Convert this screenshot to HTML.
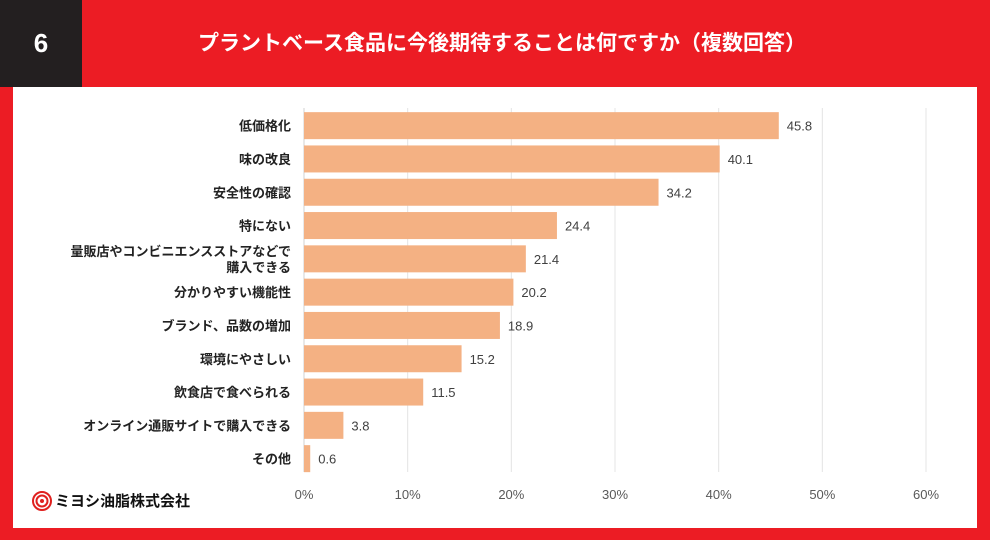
<!DOCTYPE html>
<html><head><meta charset="utf-8"><style>
body{margin:0;width:990px;height:540px;background:#ec1c24;position:relative;overflow:hidden;font-family:"Liberation Sans","Noto Sans CJK JP",sans-serif}
#num{position:absolute;left:0;top:0;width:82px;height:87px;background:#231f20;color:#fff;font-weight:bold;font-size:26px;line-height:87px;text-align:center}
#title{position:absolute;left:0;width:1004px;top:0;height:87px;line-height:87px;text-align:center;color:#fff;font-weight:bold;font-size:21px}
#panel{position:absolute;left:13px;top:87px;width:964px;height:441px;background:#fff}
#logo{position:absolute;left:32px;top:490px;font-size:15px;font-weight:bold;color:#111;display:flex;align-items:center;gap:3px}
svg{position:absolute;left:0;top:0}
</style></head><body>
<div id="num">6</div>
<div id="title">プラントベース食品に今後期待することは何ですか（複数回答）</div>
<div id="panel"></div>
<svg id="chart" width="990" height="540"></svg>
<div id="logo"><svg style="position:static" width="20" height="20" viewBox="0 0 20 20"><circle cx="10" cy="10" r="9" fill="none" stroke="#e0201e" stroke-width="2"/><circle cx="10" cy="10" r="5.5" fill="none" stroke="#e0201e" stroke-width="2"/><circle cx="10" cy="10" r="2" fill="#e0201e"/></svg><span>ミヨシ油脂株式会社</span></div>
<script>
const categories=["低価格化","味の改良","安全性の確認","特にない","量販店やコンビニエンスストアなどで|購入できる","分かりやすい機能性","ブランド、品数の増加","環境にやさしい","飲食店で食べられる","オンライン通販サイトで購入できる","その他"];
const values=[45.8,40.1,34.2,24.4,21.4,20.2,18.9,15.2,11.5,3.8,0.6];
const ticks=[0,10,20,30,40,50,60];
const svg=document.getElementById('chart');
const NS="http://www.w3.org/2000/svg";
const x0=304,x1=926,xmax=60,yTop=109,step=33.3,bh=27;
const xs=v=>x0+(x1-x0)*v/xmax;
const yc=i=>yTop+step*(i+0.5);
function mk(t,a){const e=document.createElementNS(NS,t);for(const k in a)e.setAttribute(k,a[k]);svg.appendChild(e);return e;}
ticks.forEach(t=>{
 const g=mk('line',{x1:xs(t),x2:xs(t),y1:108,y2:472,stroke:t===0?'#d0d0d0':'#e4e4e4','stroke-width':1});
 
 
 const l=mk('text',{x:xs(t),y:499,'text-anchor':'middle','font-size':13,fill:'#595959'});
 l.textContent=t+'%';
 
 
});
categories.forEach((c,i)=>{
 const v=values[i];
 const r=mk('rect',{x:x0,y:yc(i)-bh/2,width:xs(v)-x0,height:bh,fill:'#f4b183'});
 
 
 const vl=mk('text',{x:xs(v)+8,y:yc(i)+5,'font-size':13,fill:'#404040'});
 vl.textContent=v.toFixed(1);
 
 
 const parts=c.split('|');
 parts.forEach((p,k)=>{
  const t=mk('text',{x:291,y:yc(i)+5+(k-(parts.length-1)/2)*16,'text-anchor':'end','font-size':13,'font-weight':'bold',fill:'#222'});
  t.textContent=p;
  
  
 });
});
</script>
</body></html>
